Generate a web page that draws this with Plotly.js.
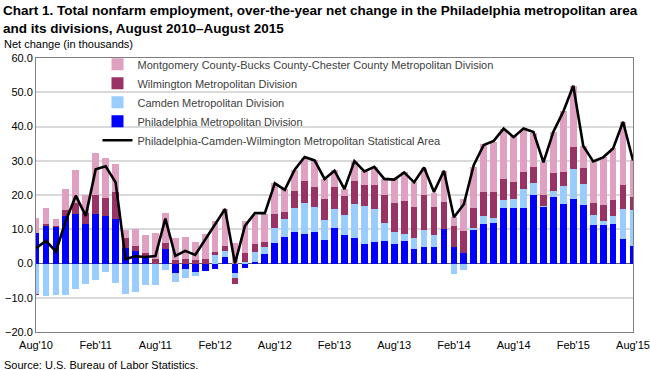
<!DOCTYPE html>
<html>
<head>
<meta charset="utf-8">
<script src="https://cdn.plot.ly/plotly-3.0.1.min.js"></script>
<style>
html,body{margin:0;padding:0;background:#fff;}
#chart{width:650px;height:370px;}
</style>
</head>
<body>
<div id="chart"></div>
<script>
// Months Aug 2010 .. Aug 2015 (61 months), index 0 = Aug'10
var months = ["Aug'10","Sep'10","Oct'10","Nov'10","Dec'10","Jan'11","Feb'11","Mar'11","Apr'11","May'11","Jun'11","Jul'11",
  "Aug'11","Sep'11","Oct'11","Nov'11","Dec'11","Jan'12","Feb'12","Mar'12","Apr'12","May'12","Jun'12","Jul'12",
  "Aug'12","Sep'12","Oct'12","Nov'12","Dec'12","Jan'13","Feb'13","Mar'13","Apr'13","May'13","Jun'13","Jul'13",
  "Aug'13","Sep'13","Oct'13","Nov'13","Dec'13","Jan'14","Feb'14","Mar'14","Apr'14","May'14","Jun'14","Jul'14",
  "Aug'14","Sep'14","Oct'14","Nov'14","Dec'14","Jan'15","Feb'15","Mar'15","Apr'15","May'15","Jun'15","Jul'15","Aug'15"];

var tickLabels = ["Aug'10","Feb'11","Aug'11","Feb'12","Aug'12","Feb'13","Aug'13","Feb'14","Aug'14","Feb'15","Aug'15"];

var philadelphia = [9.0,11.0,10.7,13.8,14.6,11.6,14.4,13.8,12.9,4.5,3.7,1.6,
  0.0,4.3,-2.7,-1.7,-2.4,-2.2,-1.6,2.0,-2.7,-1.3,0.5,2.9,
  6.0,7.7,9.1,8.7,9.1,6.9,10.4,8.3,7.5,5.6,6.3,6.7,
  5.8,6.5,4.1,4.9,4.8,10.0,4.8,3.0,9.8,11.6,11.8,16.1,
  16.1,16.1,19.9,16.6,19.4,17.4,18.9,17.2,11.2,11.2,11.6,7.3,5.0];

var camden = [-8.9,-9.4,-9.3,-9.1,-7.5,-6.0,-4.8,-2.6,-5.8,-8.9,-8.2,-6.4,
  -6.4,-1.8,-2.6,-2.4,-1.3,0.0,2.5,1.6,-1.4,0.5,2.9,2.0,
  4.5,5.4,7.2,8.9,7.5,5.8,5.5,5.8,9.8,11.1,9.6,5.0,
  3.3,2.1,3.4,4.9,3.4,0.0,-3.0,-1.9,0.5,2.4,1.6,2.3,
  2.8,5.6,3.5,0.2,1.8,5.2,8.7,6.0,2.9,1.2,2.4,8.6,10.5];

var wilmington = [-0.3,0.6,0.2,1.7,3.0,3.2,5.7,5.4,7.9,2.9,1.5,1.6,
  1.4,1.8,1.1,1.2,1.1,1.4,1.0,1.6,-1.9,2.6,2.4,1.4,
  3.9,2.0,4.9,6.6,5.8,6.1,6.3,5.7,6.9,6.3,7.1,8.3,
  8.6,9.7,8.9,10.3,8.4,8.0,6.2,6.6,5.8,7.0,7.6,6.2,
  4.8,4.9,4.7,3.2,5.2,4.2,6.3,4.8,3.7,4.6,4.4,6.9,3.9];

var montgomery = [4.4,4.5,2.0,6.3,9.6,5.3,12.2,11.7,8.3,2.5,4.9,5.1,
  7.5,8.7,6.3,6.6,5.2,7.1,8.8,10.7,6.0,9.3,8.3,8.2,
  9.0,6.6,6.2,6.6,7.7,5.9,5.2,1.9,5.7,3.9,5.2,4.7,
  7.0,8.3,7.3,7.9,4.1,9.1,2.7,9.2,12.2,13.9,14.6,14.6,
  13.4,12.4,9.9,9.5,12.1,17.6,18.0,6.3,12.0,14.2,15.2,18.6,10.7];

var msaTotal = [4.5,6.6,3.5,12.5,19.8,13.9,27.5,28.4,23.7,1.3,2.1,1.9,
  2.2,13.1,2.2,3.7,2.5,6.9,11.3,15.9,0.0,11.0,14.7,14.7,
  23.4,21.5,27.4,31.1,30.1,24.7,27.1,21.7,29.9,26.9,28.2,24.7,
  24.5,26.6,23.7,28.0,20.9,27.1,13.5,17.3,28.8,34.6,35.8,39.4,
  36.9,39.4,38.4,29.5,38.5,44.4,51.9,34.3,29.8,31.0,33.6,41.4,30.1];

var seriesNames = [
  "Philadelphia Metropolitan Division",
  "Camden Metropolitan Division",
  "Wilmington Metropolitan Division",
  "Montgomery County-Bucks County-Chester County Metropolitan Division",
  "Philadelphia-Camden-Wilmington Metropolitan Statistical Area"
];

var xIdx = months.map(function(m, i){ return i; });
var tickIdx = tickLabels.map(function(t){ return months.indexOf(t); });

var barW = 0.68;
function barTrace(vals, name, color, rank){
  return {type:'bar', x:xIdx, y:vals, name:name, width:barW,
    marker:{color:color, line:{width:0}}, legendrank:rank};
}

var data = [
  barTrace(philadelphia, seriesNames[0], '#0000FF', 4),
  barTrace(camden, seriesNames[1], '#99CCFF', 3),
  barTrace(wilmington, seriesNames[2], '#993366', 2),
  barTrace(montgomery, seriesNames[3], '#DFA0C2', 1),
  {type:'scatter', mode:'lines', x:xIdx, y:msaTotal, name:seriesNames[4],
   line:{color:'#000000', width:2.6}, legendrank:5}
];

var font = "'Liberation Sans', Arial, sans-serif";
var plotW = 597, plotH = 274;
var layout = {
  width:650, height:370,
  margin:{l:36, r:17, t:58, b:38},
  paper_bgcolor:'#ffffff', plot_bgcolor:'#ffffff',
  barmode:'relative', bargap:0,
  showlegend:true,
  font:{family:font, size:11, color:'#000000'},
  xaxis:{type:'linear', range:[0, months.length-1], tickmode:'array', tickvals:tickIdx, ticktext:tickLabels,
    showgrid:false, zeroline:false, showline:true, linecolor:'#808080', linewidth:1, mirror:true,
    ticks:'outside', ticklen:3, tickcolor:'rgba(0,0,0,0)', tickfont:{family:font, size:11, color:'#000000'}, fixedrange:true},
  yaxis:{range:[-20,60], dtick:10, tick0:0, tickformat:'.1f',
    showgrid:true, gridcolor:'#D9D9D9', gridwidth:2,
    zeroline:true, zerolinecolor:'#595959', zerolinewidth:1,
    showline:true, linecolor:'#808080', linewidth:1, mirror:true,
    ticks:'', tickfont:{family:font, size:11, color:'#000000'}, fixedrange:true},
  legend:{x:0.103, xanchor:'left', y:1.03, yanchor:'top', bgcolor:'rgba(0,0,0,0)',
    font:{family:font, size:11, color:'#404040'}, traceorder:'normal', tracegroupgap:0},
  annotations:[
    {text:'<b>Chart 1. Total nonfarm employment, over-the-year net change in the Philadelphia metropolitan area<br>and its divisions, August 2010\u2013August 2015</b>',
     xref:'paper', yref:'paper', x:-35/plotW, y:1 + 57/plotH, xanchor:'left', yanchor:'top', align:'left',
     showarrow:false, font:{family:font, size:13.5, color:'#000000'}},
    {text:'Net change (in thousands)', xref:'paper', yref:'paper', x:-34/plotW, y:1 + 14/plotH, xanchor:'left', yanchor:'middle',
     showarrow:false, font:{family:font, size:11, color:'#000000'}},
    {text:'Source: U.S. Bureau of Labor Statistics.', xref:'paper', yref:'paper', x:-34/plotW, y:-33/plotH, xanchor:'left', yanchor:'middle',
     showarrow:false, font:{family:font, size:11, color:'#000000'}}
  ]
};

Plotly.newPlot('chart', data, layout, {displayModeBar:false, staticPlot:true});
</script>
</body>
</html>
